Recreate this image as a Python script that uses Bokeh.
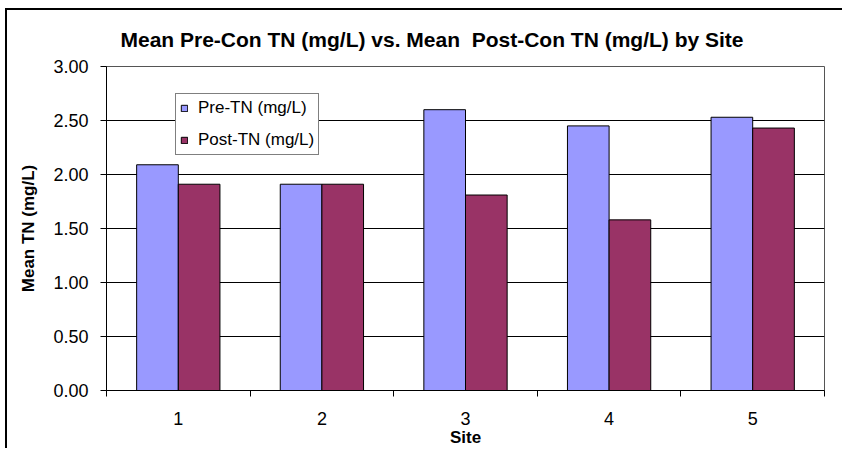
from bokeh.plotting import figure
from bokeh.models import (ColumnDataSource, Range1d, FixedTicker, NumeralTickFormatter,
                          Legend, LegendItem, Title)
from bokeh.transform import dodge
from bokeh.embed import file_html
from bokeh.resources import INLINE

sites = [1, 2, 3, 4, 5]
site_labels = ["1", "2", "3", "4", "5"]
pre_tn = [2.09, 1.91, 2.60, 2.45, 2.53]
post_tn = [1.91, 1.91, 1.81, 1.58, 2.43]
y_ticks = [0.0, 0.5, 1.0, 1.5, 2.0, 2.5, 3.0]

FONT = "Liberation Sans"

src = ColumnDataSource(dict(site=sites, pre=pre_tn, post=post_tn))

p = figure(width=837, height=440, output_backend="svg", toolbar_location=None,
           x_range=Range1d(0.5, 5.5), y_range=Range1d(0, 3.0),
           min_border_left=99, min_border_right=20, min_border_top=56,
           min_border_bottom=60, title=None)

# outer chart-area frame (left and top edges visible, as in the reference)
p.styles = {"margin-left": "5px", "margin-top": "8px",
            "border-left": "2px solid black", "border-top": "2px solid black"}

p.add_layout(Title(text="Mean Pre-Con TN (mg/L) vs. Mean\u00a0 Post-Con TN (mg/L) by Site",
                   align="left", offset=14, text_font=FONT, text_font_size="21px",
                   text_font_style="bold", text_color="black", standoff=31), "above")

r1 = p.vbar(x=dodge("site", -0.145, range=p.x_range), top="pre", width=0.29, bottom=0,
            source=src, fill_color="#9999FF", line_color="black", line_width=1)
r2 = p.vbar(x=dodge("site", 0.145, range=p.x_range), top="post", width=0.29, bottom=0,
            source=src, fill_color="#993366", line_color="black", line_width=1)

# axes
p.xaxis.ticker = FixedTicker(ticks=sites, minor_ticks=[s - 0.5 for s in sites] + [sites[-1] + 0.5])
p.xaxis.major_label_overrides = {s: l for s, l in zip(sites, site_labels)}
p.xaxis.major_tick_out = 0
p.xaxis.major_tick_in = 0
p.xaxis.minor_tick_out = 6
p.xaxis.minor_tick_in = 0
p.xaxis.minor_tick_line_color = "black"
p.xaxis.major_label_standoff = 15
p.xaxis.axis_label = "Site"
p.xaxis.axis_label_standoff = 0

p.yaxis.ticker = FixedTicker(ticks=y_ticks)
p.yaxis.formatter = NumeralTickFormatter(format="0.00")
p.yaxis.major_tick_out = 6
p.yaxis.major_tick_in = 0
p.yaxis.minor_tick_line_color = None
p.yaxis.major_label_standoff = 12
p.yaxis.axis_label = "Mean TN (mg/L)"
p.yaxis.axis_label_standoff = 12

for ax in (p.xaxis[0], p.yaxis[0]):
    ax.axis_line_color = "black"
    ax.major_tick_line_color = "black"
    ax.major_label_text_font = FONT
    ax.major_label_text_font_size = "18px"
    ax.major_label_text_color = "black"
    ax.axis_label_text_font = FONT
    ax.axis_label_text_font_size = "17px"
    ax.axis_label_text_font_style = "bold"
    ax.axis_label_text_color = "black"

p.xgrid.grid_line_color = None
p.ygrid.ticker = FixedTicker(ticks=y_ticks)
p.ygrid.grid_line_color = "black"
p.ygrid.grid_line_width = 1

p.outline_line_color = "#555555"
p.outline_line_width = 1
p.background_fill_color = "white"
p.border_fill_color = "white"

legend = Legend(items=[LegendItem(label="Pre-TN (mg/L)", renderers=[r1]),
                       LegendItem(label="Post-TN (mg/L)", renderers=[r2])],
                location=(69, 235), orientation="vertical",
                label_text_font=FONT, label_text_font_size="17px", label_text_color="black",
                glyph_width=8, glyph_height=8, label_height=18, label_standoff=10,
                spacing=12, padding=4, margin=0,
                border_line_color="black", border_line_width=1,
                background_fill_color="white", background_fill_alpha=1)
p.add_layout(legend, "center")

open("out.html", "w").write(file_html(p, INLINE))
